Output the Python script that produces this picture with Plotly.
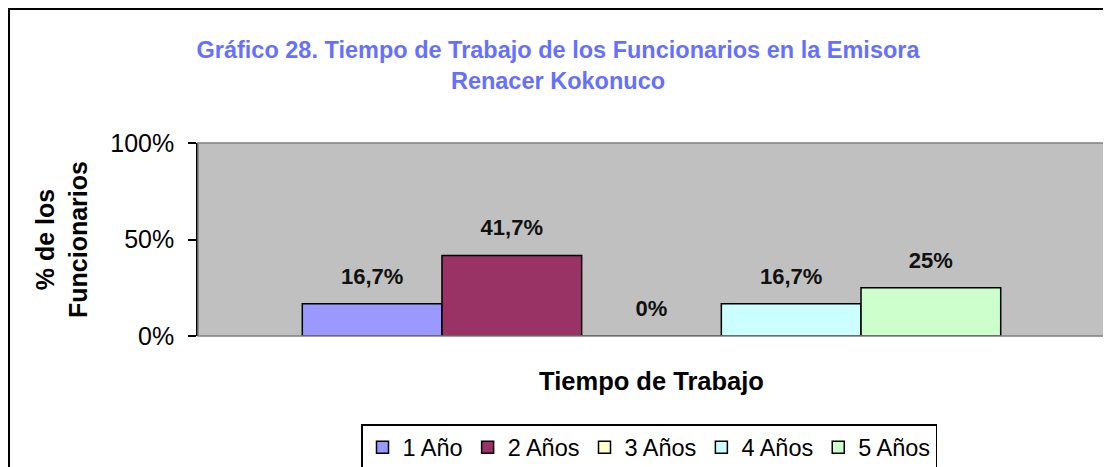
import plotly.graph_objects as go

categories = ["Tiempo de Trabajo"]
series_names = ["1 Año", "2 Años", "3 Años", "4 Años", "5 Años"]
series_values = [16.7, 41.7, 0, 16.7, 25]
series_labels = ["16,7%", "41,7%", "0%", "16,7%", "25%"]
series_colors = ["#9999FF", "#993366", "#FFFFCC", "#CCFFFF", "#CCFFCC"]
y_ticks = [0, 50, 100]
y_tick_labels = ["0%", "50%", "100%"]

FONT = "Arial, Liberation Sans, sans-serif"

fig = go.Figure()
for name, val, col in zip(series_names, series_values, series_colors):
    fig.add_trace(go.Bar(
        x=categories, y=[val], name=name,
        marker=dict(color=col, line=dict(color="#000000", width=1.5)),
        hoverinfo="skip",
    ))
# data labels, grouped exactly like the bars
for name, val, lab in zip(series_names, series_values, series_labels):
    fig.add_trace(go.Scatter(
        x=categories, y=[val], mode="markers+text", text=[lab],
        textposition="top center", showlegend=False, hoverinfo="skip",
        marker=dict(size=22, opacity=0), cliponaxis=False,
        textfont=dict(family=FONT, size=22, color="#111111"),
        texttemplate="<b>%{text}</b>",
    ))

# the page body adds an 8px offset, so the figure is sized to fit the window
OFF = 8
W, H = 1111 - OFF, 467 - OFF
L, R, T, B = 198 - OFF, 6, 143 - OFF, 131
pw = W - L - R
ph = H - T - B

def px_x(x):
    return (x - OFF - L) / pw

def px_y(y):
    return (H - B - (y - OFF)) / ph

fig.update_layout(
    width=W, height=H,
    margin=dict(l=L, r=R, t=T, b=B, autoexpand=False),
    paper_bgcolor="white",
    plot_bgcolor="#C0C0C0",
    barmode="group", bargap=0.23, bargroupgap=0,
    scattermode="group", scattergap=0.23,
    showlegend=True,
    title=dict(
        text="<b>Gráfico 28. Tiempo de Trabajo de los Funcionarios en la Emisora<br>Renacer Kokonuco</b>",
        x=(558 - OFF) / W, xanchor="center", y=1 - (58 - OFF) / H, yanchor="middle",
        font=dict(family=FONT, size=23.5, color="#6670FF"),
    ),
    font=dict(family=FONT, color="#000000"),
    xaxis=dict(
        showticklabels=False, ticks="", showline=False, automargin=False,
        title=dict(text="<b>Tiempo de Trabajo</b>", font=dict(size=25.5, color="#000000"), standoff=36),
    ),
    yaxis=dict(
        range=[0, 100], tickvals=y_ticks, ticktext=y_tick_labels,
        ticks="outside", ticklen=8, tickcolor="#000000", tickwidth=1.5,
        ticklabelstandoff=9,
        showline=True, linecolor="#000000", linewidth=1.5,
        showgrid=False, zeroline=False, automargin=False,
        tickfont=dict(size=25, color="#000000"),
        title=dict(text="<b>% de los<br>Funcionarios</b>", font=dict(size=25, color="#000000"), standoff=16),
    ),
    legend=dict(
        orientation="h", x=px_x(649), xanchor="center", y=px_y(424), yanchor="top",
        bordercolor="#000000", borderwidth=1.5, bgcolor="white",
        font=dict(family=FONT, size=23.5, color="#000000"),
        itemwidth=30, tracegroupgap=0,
    ),
)

# plot-area border (gray) and outer chart border
fig.add_shape(type="rect", xref="paper", yref="paper", x0=0, y0=0, x1=1, y1=1,
              line=dict(color="#808080", width=1.5), layer="above")
fig.add_shape(type="rect", xref="paper", yref="paper",
              x0=px_x(9), y0=px_y(480), x1=px_x(1125), y1=px_y(9),
              line=dict(color="#000000", width=2), layer="above")

fig.write_html("out.html")
